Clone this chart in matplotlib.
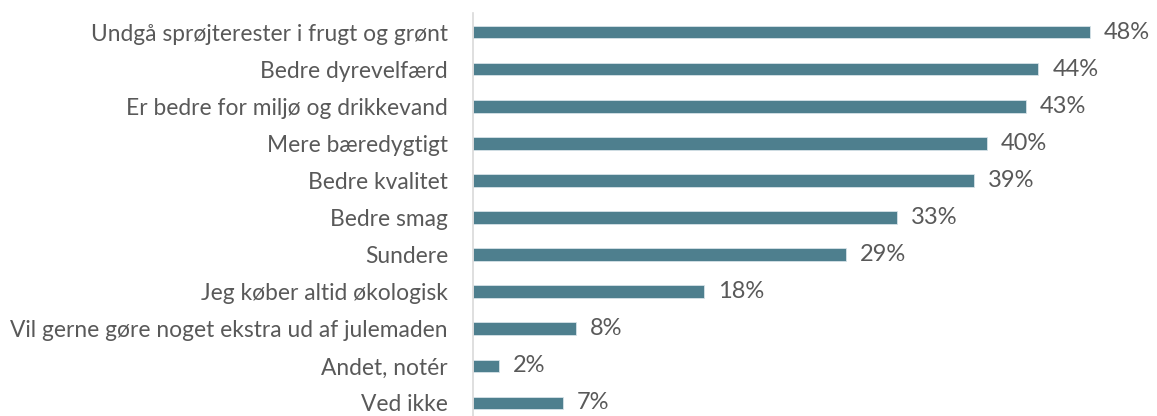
import matplotlib
matplotlib.use("Agg")
import matplotlib.pyplot as plt

categories = [
    "Undgå sprøjterester i frugt og grønt",
    "Bedre dyrevelfærd",
    "Er bedre for miljø og drikkevand",
    "Mere bæredygtigt",
    "Bedre kvalitet",
    "Bedre smag",
    "Sundere",
    "Jeg køber altid økologisk",
    "Vil gerne gøre noget ekstra ud af julemaden",
    "Andet, notér",
    "Ved ikke",
]
values = [48, 44, 43, 40, 39, 33, 29, 18, 8, 2, 7]

bar_color = "#4E7F8E"
text_color = "#595959"

plt.rcParams['font.family'] = ['Lato', 'DejaVu Sans']

fig = plt.figure(figsize=(11.57, 4.16), dpi=100)
ax = fig.add_axes([473/1157, -5.5/416, (1150-473)/1157, 408/416])

y = list(range(len(categories)))
ax.barh(y, values, height=0.34, color=bar_color, edgecolor="#D6E3E8", linewidth=0.6)
ax.set_ylim(len(categories) - 0.5, -0.5)
ax.set_xlim(0, 677/12.85)

for yi, v in zip(y, values):
    ax.text(v + 1.1, yi, f"{v}%", va="center", ha="left",
            fontsize=17, color=text_color)

ax.set_yticks(y)
ax.set_yticklabels(categories, fontsize=16.4, color=text_color)
ax.tick_params(axis='y', length=0, pad=18)
ax.set_xticks([])
for s in ["top", "right", "bottom"]:
    ax.spines[s].set_visible(False)
ax.spines["left"].set_color("#D9D9D9")
ax.spines["left"].set_linewidth(1.2)

fig.savefig("out.png", dpi=100)
